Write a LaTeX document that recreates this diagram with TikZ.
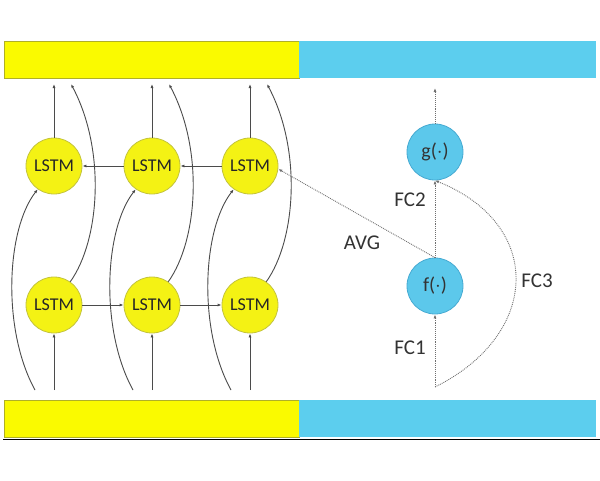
\documentclass[tikz,border=0pt]{standalone}
\usepackage{fontspec}
\setmainfont{Carlito}
\usetikzlibrary{arrows.meta}
\definecolor{barY}{RGB}{250,250,0}
\definecolor{barYline}{RGB}{175,175,40}
\definecolor{barB}{RGB}{92,206,238}
\definecolor{cellY}{RGB}{244,242,20}
\definecolor{cellYline}{RGB}{195,195,60}
\definecolor{cellB}{RGB}{92,200,235}
\definecolor{cellBline}{RGB}{70,170,210}
\definecolor{wire}{RGB}{75,75,75}
\tikzset{
	lstm/.style={circle,fill=cellY,draw=cellYline,line width=0.8pt,minimum size=56pt,inner sep=0pt,font=\fontsize{18}{20}\selectfont,text=black!85},
	fcell/.style={circle,fill=cellB,draw=cellBline,line width=0.8pt,minimum size=56pt,inner sep=0pt,font=\fontsize{20}{22}\selectfont,text=black!80},
	wirearrow/.style={draw=wire,line width=0.9pt,-{Latex[length=4pt,width=3pt]}},
	dotarrow/.style={draw=wire!80,line width=0.9pt,densely dotted,-{Latex[length=4pt,width=3pt]}},
	lbl/.style={font=\fontsize{21}{23}\selectfont,text=black!80}
}
\begin{document}
\begin{tikzpicture}[x=1pt,y=-1pt]
				\useasboundingbox (0,0) rectangle (600,480);
				\fill[barY] (4,41) rectangle (299,78);
				\draw[barYline,line width=0.8pt] (4,41) rectangle (299,78);
				\fill[barB] (299,41) rectangle (596,78);
				\fill[barY] (4,400) rectangle (299,437);
				\draw[barYline,line width=0.8pt] (4,400) rectangle (299,437);
				\fill[barB] (299,400) rectangle (596,437);
				\draw[black,line width=0.8pt] (3,439.5) -- (600,439.5);
				\node[lstm] (t1) at (54,166) {LSTM};
				\node[lstm] (t2) at (152,166) {LSTM};
				\node[lstm] (t3) at (250,166) {LSTM};
				\node[lstm] (b1) at (54,305) {LSTM};
				\node[lstm] (b2) at (152,305) {LSTM};
				\node[lstm] (b3) at (250,305) {LSTM};
				\node[fcell] (g) at (435,152) {g($\cdot$)};
				\node[fcell] (f) at (435,286) {f($\cdot$)};
				\draw[wirearrow] (t3) -- (t2);
				\draw[wirearrow] (t2) -- (t1);
				\draw[wirearrow] (b1) -- (b2);
				\draw[wirearrow] (b2) -- (b3);
				\foreach \c/\x in {1/54,2/152,3/250} {
					\coordinate (in\c) at (\x,390);
					\coordinate (sk\c) at (\x-19,390);
					\coordinate (out\c) at (\x,84);
					\coordinate (up\c) at (\x+17,84);
					\draw[wirearrow] (in\c) -- (b\c.south);
					\draw[wirearrow] (t\c.north) -- (out\c);
					\draw[wirearrow] (sk\c) .. controls (\x-52,330) and (\x-48,230) .. (t\c.235);
					\draw[wirearrow] (b\c.55) .. controls (\x+46,240) and (\x+52,150) .. (up\c);
				}
				\coordinate (base) at (435,387);
				\coordinate (top) at (435,88);
				\draw[dotarrow] (g.north) -- (top);
				\draw[dotarrow] (f.north) -- (g.south);
				\draw[dotarrow] (f.north) -- (t3.-6);
				\draw[dotarrow] (base) -- (f.south);
				\draw[dotarrow] (base) .. controls (540,335) and (545,225) .. (g.south);
				\node[lbl] at (410,200) {FC2};
				\node[lbl] at (362,243) {AVG};
				\node[lbl] at (537,281) {FC3};
				\node[lbl] at (410,348) {FC1};
			\end{tikzpicture}
\end{document}
